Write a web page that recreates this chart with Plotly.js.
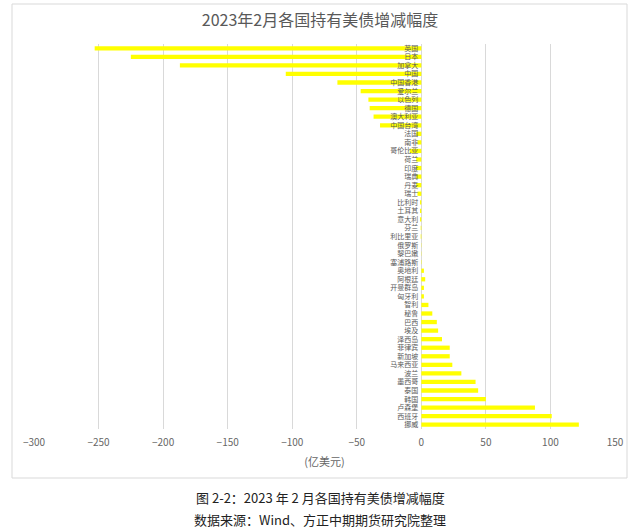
<!DOCTYPE html>
<html>
<head>
<meta charset="utf-8">
<script src="https://cdn.plot.ly/plotly-3.0.1.min.js"></script>
<style>html,body{margin:0;padding:0;background:#fff;}#chart{width:640px;height:532px;}</style>
</head>
<body>
<div id="chart"></div>
<script>
const countries = ["英国","日本","加拿大","中国","中国香港","爱尔兰","以色列","德国","澳大利亚","中国台湾",
  "法国","南非","哥伦比亚","荷兰","印度","瑞典","丹麦","瑞士","比利时","土耳其",
  "意大利","芬兰","利比里亚","俄罗斯","黎巴嫩","塞浦路斯","奥地利","阿根廷","开曼群岛","匈牙利",
  "智利","秘鲁","巴西","埃及","泽西岛","菲律宾","新加坡","马来西亚","波兰","墨西哥",
  "泰国","韩国","卢森堡","西班牙","挪威"];
const changes = [-253,-225,-187,-105,-65,-47,-41,-40,-37,-32,
  -4,-3,-9,-4,-4,-4,-4,-3,-1,-1,
  -1,-0.5,-0.5,0.2,0.2,0.3,2,3,2,2,
  5.5,8.5,12,13,16,22,22,24,31,42,
  44,50,88,101,122];
const chartTitle = "2023年2月各国持有美债增减幅度";
const unitLabel = "(亿美元)";
const caption1 = "图 2-2：2023 年 2 月各国持有美债增减幅度";
const caption2 = "数据来源：Wind、方正中期期货研究院整理";

const grey = "#595959";
const data = [{
  type: "bar",
  orientation: "h",
  x: changes,
  y: countries,
  marker: {color: "#ffff00"},
  hoverinfo: "x+y"
}];

const plotTop = 44, plotBottom = 429, plotH = plotBottom - plotTop;
const pl = 34, pr = 615, plotW = pr - pl;
function py(p){ return (plotBottom - p) / plotH; }
function px(p){ return (p - pl) / plotW; }

const layout = {
  width: 640, height: 532,
  margin: {l: pl, r: 640 - pr, t: plotTop, b: 532 - plotBottom},
  paper_bgcolor: "#fff", plot_bgcolor: "#fff",
  font: {family: "'Noto Sans CJK SC', 'Noto Sans', sans-serif", color: grey},
  title: {text: chartTitle, x: 0.5, xanchor: "center", y: 1 - 20/532, yanchor: "middle",
          font: {size: 16, color: grey, family: "'Noto Sans CJK SC', sans-serif"}},
  bargap: 0.5,
  showlegend: false,
  xaxis: {
    range: [-300, 150], dtick: 50, tick0: 0,
    showgrid: true, gridcolor: "#d9d9d9", gridwidth: 1,
    zeroline: true, zerolinecolor: "#d9d9d9", zerolinewidth: 1,
    showline: false, ticks: "",
    ticklabelstandoff: 6,
    tickfont: {size: 10, color: "#666"},
    title: {text: unitLabel, font: {size: 11, color: "#666"}, standoff: 10}
  },
  yaxis: {
    type: "category",
    autorange: "reversed",
    anchor: "free",
    position: 300/450,
    showgrid: false, zeroline: false, showline: false, ticks: "",
    ticklabelstandoff: 3,
    tickfont: {size: 7, color: grey}
  },
  shapes: [{
    type: "rect", xref: "paper", yref: "paper",
    x0: px(12), x1: px(627), y0: py(478), y1: py(4),
    line: {color: "#d9d9d9", width: 1}, fillcolor: "rgba(0,0,0,0)", layer: "below"
  }],
  annotations: [
    {text: caption1, xref: "paper", yref: "paper", x: px(320), y: py(497), xanchor: "center", yanchor: "middle",
     showarrow: false, font: {size: 13, color: "#222"}},
    {text: caption2, xref: "paper", yref: "paper", x: px(320), y: py(519), xanchor: "center", yanchor: "middle",
     showarrow: false, font: {size: 13, color: "#222"}}
  ]
};
Plotly.newPlot("chart", data, layout, {displayModeBar: false, staticPlot: true});
</script>
</body>
</html>
